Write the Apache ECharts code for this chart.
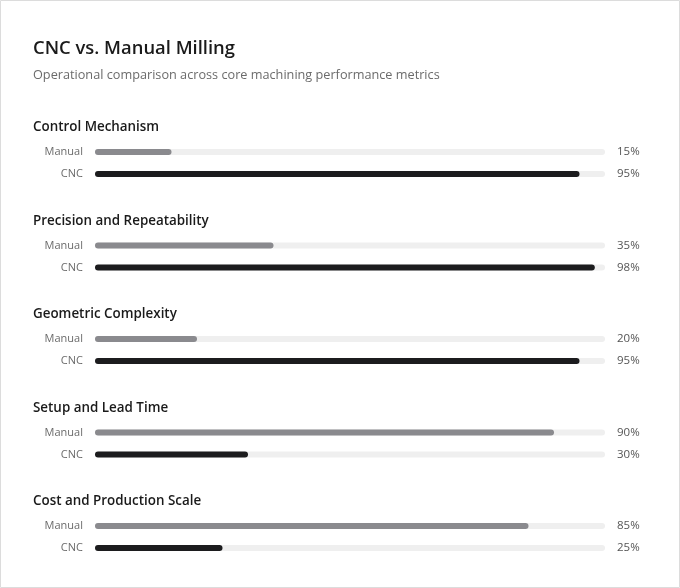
<!DOCTYPE html>
<html><head><meta charset="utf-8">
<script src="https://cdn.jsdelivr.net/npm/echarts@6/dist/echarts.min.js"></script>
<style>html,body{margin:0;padding:0;background:#fff}#c{width:680px;height:588px}</style>
</head><body><div id="c"></div>
<script>
const metrics = ['Control Mechanism','Precision and Repeatability','Geometric Complexity','Setup and Lead Time','Cost and Production Scale'];
const methods = ['Manual','CNC'];
const manualValues = [15, 35, 20, 90, 85];
const cncValues = [95, 98, 95, 30, 25];

const FONT = '"Open Sans", "Noto Sans", sans-serif';
const groupTops = [141, 234.5, 328, 421.5, 515];
const colors = {Manual: '#8a8a8e', CNC: '#1c1c1e'};

const chart = echarts.init(document.getElementById('c'), null, {renderer: 'canvas'});
const titles = [
  {text: 'CNC vs. Manual Milling', left: 33, top: 40, padding: 0,
   textStyle: {fontFamily: FONT, fontSize: 18.4, fontWeight: 600, color: '#1a1a1a'}},
  {text: 'Operational comparison across core machining performance metrics', left: 33, top: 69, padding: 0,
   textStyle: {fontFamily: FONT, fontSize: 12.7, fontWeight: 400, color: '#6b6b6b'}}
];
const grids = [], xAxes = [], yAxes = [], series = [];
metrics.forEach((m, i) => {
  titles.push({text: m, left: 33, top: groupTops[i] - 20, padding: 0,
    textStyle: {fontFamily: FONT, fontSize: 13.4, fontWeight: 600, color: '#1a1a1a'}});
  grids.push({left: 95, right: 75, top: groupTops[i], height: 44});
  xAxes.push({gridIndex: i, type: 'value', min: 0, max: 100, show: false});
  const vals = [manualValues[i], cncValues[i]];
  yAxes.push({gridIndex: i, type: 'category', data: methods, inverse: true,
    axisLine: {show: false}, axisTick: {show: false}, splitLine: {show: false},
    axisLabel: {margin: 12, fontFamily: FONT, fontSize: 11, color: '#6b6b6b'}});
  yAxes.push({gridIndex: i, type: 'category', position: 'right', data: vals.map(v => v + '%'), inverse: true,
    axisLine: {show: false}, axisTick: {show: false}, splitLine: {show: false},
    axisLabel: {margin: 12, fontFamily: FONT, fontSize: 11.5, color: '#555'}});
  series.push({type: 'bar', xAxisIndex: i, yAxisIndex: i * 2, barWidth: 6,
    showBackground: true, backgroundStyle: {color: '#efefef', borderRadius: 3},
    data: vals.map((v, k) => ({value: v, itemStyle: {color: colors[methods[k]], borderRadius: 3}})),
    silent: true, animation: false});
});
chart.setOption({
  animation: false,
  title: titles,
  grid: grids, xAxis: xAxes, yAxis: yAxes, series: series,
  graphic: [{type: 'rect', shape: {x: 0.5, y: 0.5, width: 679, height: 587},
    style: {fill: 'none', stroke: '#dcdcdc', lineWidth: 1}, silent: true}]
});
</script></body></html>
